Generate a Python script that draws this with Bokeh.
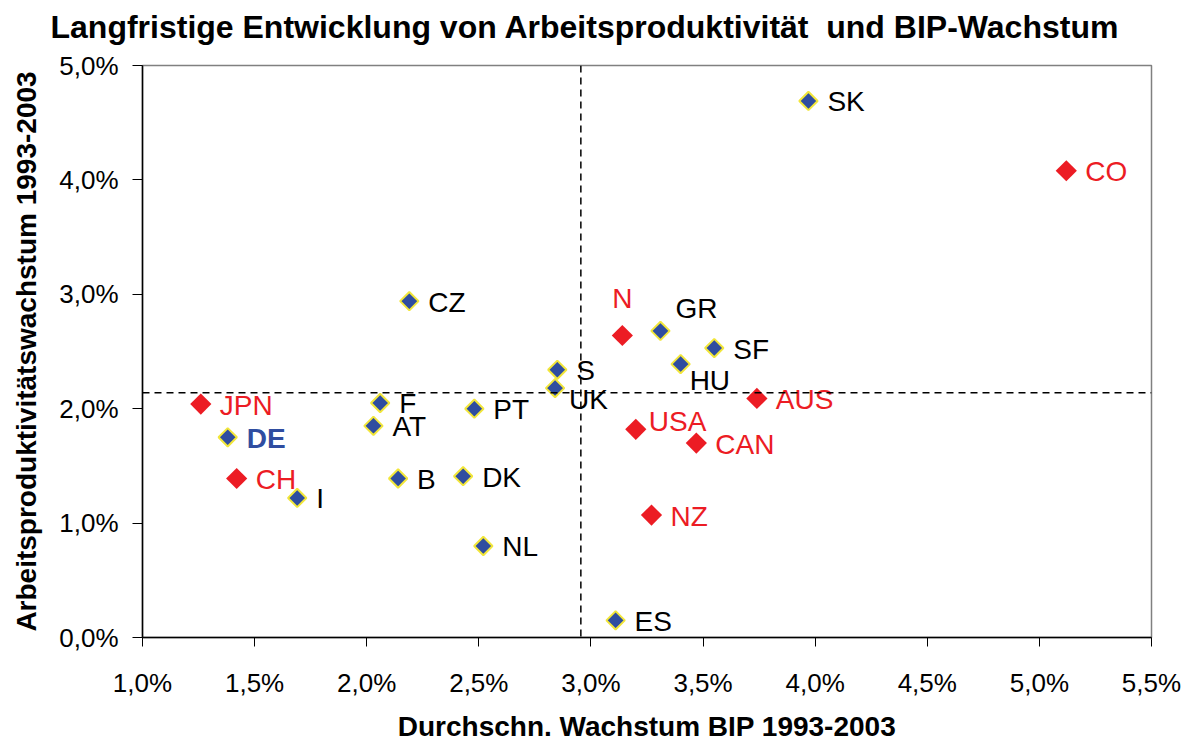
from bokeh.plotting import figure
from bokeh.models import ColumnDataSource, Span, FixedTicker, CustomJSTickFormatter, Range1d, Title
from bokeh.core.properties import value
from bokeh.embed import file_html
from bokeh.resources import INLINE
import numpy as np

# ---- data (percent) ----
blue_countries = ["SK", "CZ", "GR", "SF", "HU", "S", "UK", "F", "PT", "AT", "DE", "B", "DK", "I", "NL", "ES"]
blue_gdp = [3.97, 2.19, 3.31, 3.55, 3.40, 2.85, 2.84, 2.06, 2.48, 2.03, 1.38, 2.14, 2.43, 1.69, 2.52, 3.11]
blue_prod = [4.69, 2.94, 2.68, 2.53, 2.39, 2.34, 2.18, 2.05, 2.00, 1.85, 1.75, 1.39, 1.41, 1.22, 0.80, 0.15]

red_countries = ["CO", "N", "AUS", "JPN", "USA", "CAN", "CH", "NZ"]
red_gdp = [5.12, 3.14, 3.74, 1.26, 3.20, 3.47, 1.42, 3.27]
red_prod = [4.08, 2.64, 2.09, 2.04, 1.82, 1.70, 1.39, 1.07]

mean_gdp = 2.955
mean_prod = 2.14

x_ticks = [1.0, 1.5, 2.0, 2.5, 3.0, 3.5, 4.0, 4.5, 5.0, 5.5]
y_ticks = [0.0, 1.0, 2.0, 3.0, 4.0, 5.0]

title_text = "Langfristige Entwicklung von Arbeitsproduktivität\u00a0 und BIP-Wachstum"
x_title = "Durchschn. Wachstum BIP 1993-2003"
y_title = "Arbeitsproduktivitätswachstum 1993-2003"

# ---- layout: label offsets in screen pixels (dx, dy; dy positive = down) ----
label_offsets = {
    "N": (-10, -37), "GR": (15, -22), "HU": (9, 16), "UK": (14, 11), "USA": (13, -8),
}
default_offset = (19, 1)

FONT = "Liberation Sans"
RED = "#EC1C24"
BLUE = "#2F4DA0"
YELLOW = "#F2E63A"

p = figure(width=1190, height=744, output_backend="svg", toolbar_location=None,
           x_range=Range1d(1.0, 5.5), y_range=Range1d(0.0, 5.0),
           min_border_left=142, min_border_right=39, min_border_top=65, min_border_bottom=107)
p.background_fill_color = "white"
p.border_fill_color = "white"
p.outline_line_color = "#808080"
p.outline_line_width = 1.5
p.grid.visible = False

# spacer between frame and title, then the title itself
p.add_layout(Title(text="\u00a0", text_font_size="15px", standoff=0), "above")
p.add_layout(Title(text=title_text, align="left", offset=-92, text_font=FONT,
                   text_font_size="32px", text_font_style="bold", text_color="black",
                   standoff=4), "above")

fmt = CustomJSTickFormatter(code="return tick.toFixed(1).replace('.', ',') + '%';")

xa = p.xaxis[0]
xa.ticker = FixedTicker(ticks=x_ticks)
xa.formatter = fmt
xa.minor_tick_line_color = None
xa.major_tick_in = 0
xa.major_tick_out = 9
xa.major_label_standoff = 21
xa.major_label_text_font = FONT
xa.major_label_text_font_size = "26px"
xa.major_label_text_color = "black"
xa.axis_line_color = "black"
xa.axis_line_width = 1.5
xa.major_tick_line_color = "black"
xa.axis_label = x_title
xa.axis_label_text_font = FONT
xa.axis_label_text_font_size = "28px"
xa.axis_label_text_font_style = "bold"
xa.axis_label_text_color = "black"
xa.axis_label_standoff = 10

ya = p.yaxis[0]
ya.ticker = FixedTicker(ticks=y_ticks)
ya.formatter = fmt
ya.minor_tick_line_color = None
ya.major_tick_in = 0
ya.major_tick_out = 10
ya.major_label_standoff = 14
ya.major_label_text_font = FONT
ya.major_label_text_font_size = "26px"
ya.major_label_text_color = "black"
ya.axis_line_color = "black"
ya.axis_line_width = 1.5
ya.major_tick_line_color = "black"
ya.axis_label = y_title
ya.axis_label_text_font = FONT
ya.axis_label_text_font_size = "28px"
ya.axis_label_text_font_style = "bold"
ya.axis_label_text_color = "black"
ya.axis_label_standoff = 14

# markers
blue_src = ColumnDataSource(dict(x=blue_gdp, y=blue_prod, name=blue_countries))
red_src = ColumnDataSource(dict(x=red_gdp, y=red_prod, name=red_countries))

p.scatter("x", "y", source=blue_src, marker="square", angle=np.pi / 4, size=13,
          fill_color=BLUE, line_color=YELLOW, line_width=2)
p.scatter("x", "y", source=red_src, marker="square", angle=np.pi / 4, size=15,
          fill_color=RED, line_color=None)

# labels
def offsets(names):
    dx = [label_offsets.get(n, default_offset)[0] for n in names]
    dy = [label_offsets.get(n, default_offset)[1] for n in names]
    return dx, dy

bl = [n for n in blue_countries if n != "DE"]
bl_x = [blue_gdp[i] for i, n in enumerate(blue_countries) if n != "DE"]
bl_y = [blue_prod[i] for i, n in enumerate(blue_countries) if n != "DE"]
dx, dy = offsets(bl)
p.text(x=bl_x, y=bl_y, text=bl, x_offset=dx, y_offset=dy,
       text_font=value(FONT), text_font_size="28px", text_color="black",
       text_baseline="middle", text_align="left")

de_i = blue_countries.index("DE")
dx, dy = offsets(["DE"])
p.text(x=[blue_gdp[de_i]], y=[blue_prod[de_i]], text=["DE"], x_offset=dx, y_offset=dy,
       text_font=value(FONT), text_font_size="28px", text_font_style="bold", text_color=BLUE,
       text_baseline="middle", text_align="left")

dx, dy = offsets(red_countries)
p.text(x=red_gdp, y=red_prod, text=red_countries, x_offset=dx, y_offset=dy,
       text_font=value(FONT), text_font_size="28px", text_color=RED,
       text_baseline="middle", text_align="left")

# mean lines
p.add_layout(Span(location=mean_gdp, dimension="height", line_color="black",
                  line_dash="7 5", line_width=1.5))
p.add_layout(Span(location=mean_prod, dimension="width", line_color="black",
                  line_dash="7 5", line_width=1.5))

open("out.html", "w").write(file_html(p, INLINE))
